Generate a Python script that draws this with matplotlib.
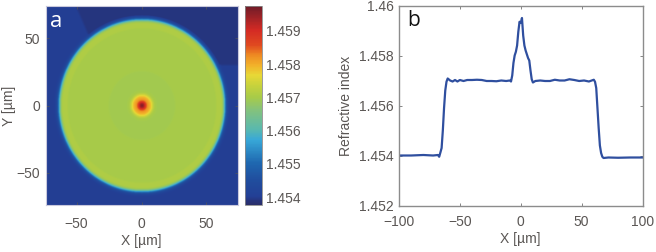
import numpy as np
import matplotlib
matplotlib.use("Agg")
import matplotlib.pyplot as plt
from matplotlib.colors import LinearSegmentedColormap

plt.rcParams['font.family'] = ['Liberation Sans', 'DejaVu Sans']

# refractive index read along the radius, one value per micron (r = 0, 1, 2 ...)
radial_n = [1.4597, 1.4595, 1.4592, 1.4587, 1.4583, 1.4581, 1.4580, 1.4578, 1.4575, 1.4572,
            1.4570, 1.4570, 1.45695, 1.45695, 1.45695, 1.45695, 1.45695, 1.45695, 1.45695, 1.45695,
            1.45695, 1.45695, 1.45695, 1.45695, 1.45695, 1.45695, 1.4570, 1.4570, 1.4570, 1.4570,
            1.4570, 1.4570, 1.4570, 1.4570, 1.4570, 1.4570, 1.4570, 1.4570, 1.4570, 1.4570,
            1.4570, 1.4570, 1.4570, 1.4570, 1.4570, 1.4570, 1.4570, 1.4570, 1.4570, 1.4570,
            1.4570, 1.4570, 1.4570, 1.4570, 1.4570, 1.4570, 1.4570, 1.4570, 1.4571, 1.4571,
            1.4571, 1.4571, 1.4570, 1.4566, 1.4557, 1.4548, 1.4543, 1.4541, 1.4540, 1.4540,
            1.4540, 1.4540, 1.4540, 1.4540, 1.4540, 1.4540, 1.4540, 1.4540, 1.4540, 1.4540,
            1.4540, 1.4540, 1.4540, 1.4540, 1.4540, 1.4540, 1.4540, 1.4540, 1.4540, 1.4540,
            1.4540, 1.4540, 1.4540, 1.4540, 1.4540, 1.4540, 1.4540, 1.4540, 1.4540, 1.4540,
            1.4540, 1.4540, 1.4540, 1.4540, 1.4540, 1.4540]
corner_n = 1.45392  # darker patch in the top right of the map

# line profile of panel b
profile_x = [-100, -90, -80, -72, -68, -67, -66, -65, -64, -63, -62, -61, -60, -58, -56, -54, -52,
             -50, -47, -44, -40, -36, -32, -28, -24, -20, -16, -12, -9, -8, -7, -6, -5, -4, -3,
             -2, -1, 0, 1, 2, 3, 4, 5, 6, 7, 8, 9, 10, 12, 16, 20, 24, 28, 32, 36, 40, 44, 48,
             52, 56, 60, 61, 62, 63, 64, 65, 66, 67, 68, 72, 80, 90, 100]
profile_n = [1.45400, 1.45400, 1.45402, 1.45400, 1.45402, 1.45395, 1.45412, 1.45430, 1.45500, 1.45590,
             1.45660, 1.45695, 1.45708, 1.45700, 1.45696, 1.45702, 1.45696, 1.45702, 1.45698, 1.45702,
             1.45702, 1.45703, 1.45702, 1.45698, 1.45698, 1.45697, 1.45700, 1.45698, 1.45700, 1.45696,
             1.45720, 1.45770, 1.45800, 1.45815, 1.45840, 1.45895, 1.45935, 1.45930, 1.45950, 1.45880,
             1.45840, 1.45820, 1.45805, 1.45790, 1.45780, 1.45740, 1.45705, 1.45692, 1.45698, 1.45700,
             1.45698, 1.45698, 1.45703, 1.45700, 1.45700, 1.45705, 1.45702, 1.45698, 1.45700, 1.45696,
             1.45703, 1.45695, 1.45670, 1.45590, 1.45510, 1.45440, 1.45410, 1.45395, 1.45390, 1.45392,
             1.45391, 1.45392, 1.45392]

cbar_ticks = [1.454, 1.455, 1.456, 1.457, 1.458, 1.459]
xticks_a = [-50, 0, 50]
yticks_a = [-50, 0, 50]
xticks_b = [-100, -50, 0, 50, 100]
yticks_b = [1.452, 1.454, 1.456, 1.458, 1.46]

W, H = 656, 252
text_col = '#5a5654'

def place(x0, y0, x1, y1):
    return [x0 / W, 1 - y1 / H, (x1 - x0) / W, (y1 - y0) / H]

def soften(a, n=7):
    # box blur so the 1 micron radial steps don't show as jaggies
    k = np.ones(n) / n
    a = np.pad(a, n, mode='edge')
    a = np.apply_along_axis(np.convolve, 0, a, k, mode='same')
    a = np.apply_along_axis(np.convolve, 1, a, k, mode='same')
    return a[n:-n, n:-n]

cmap = LinearSegmentedColormap.from_list('index', [
    (0.00, '#2a2f6a'), (0.02, '#26337a'), (0.04, '#233f95'), (0.126, '#204e9e'), (0.211, '#1f68b0'),
    (0.327, '#38a8d8'), (0.377, '#58b8b0'), (0.477, '#84c27c'), (0.543, '#a8cb48'),
    (0.603, '#c8d23c'), (0.653, '#e8d836'), (0.704, '#f2b02a'), (0.754, '#ee8a22'),
    (0.804, '#e04a20'), (0.88, '#d42a24'), (1.00, '#701c28')])

fig = plt.figure(figsize=(W / 100, H / 100), dpi=100)

# panel a
ax = fig.add_axes(place(45.5, 6, 237.5, 205))
grid = np.arange(-74, 74.1, 0.25)
xx, yy = np.meshgrid(grid, grid)
rr = np.rint(np.hypot(xx, yy)).astype(int)
field = np.array(radial_n)[rr]
field[(rr > 66) & (yy > 30) & (xx > -51 + (74 - yy) * 0.45)] = corner_n
field = soften(field)
im = ax.imshow(field, extent=[-74, 74, -74, 74], origin='lower', aspect='auto', cmap=cmap,
               vmin=1.45376, vmax=1.45975)
ax.set_xticks(xticks_a)
ax.set_yticks(yticks_a)
ax.tick_params(direction='in', length=2, width=0.5, color='#555555', labelcolor=text_col,
               labelsize=10, top=True, right=True)
ax.tick_params(axis='x', pad=9)
ax.tick_params(axis='y', pad=4)
for s in ax.spines.values():
    s.set_color('#c9c9dd')
    s.set_linewidth(0.8)
ax.set_xlabel('X [µm]', fontsize=10, color=text_col, labelpad=2)
ax.set_ylabel('Y [µm]', fontsize=10, color=text_col, labelpad=0)
ax.text(0.025, 0.975, 'a', transform=ax.transAxes, color='white', fontsize=16,
        family='Open Sans', va='top')

cax = fig.add_axes(place(244.5, 6, 262, 205))
cb = fig.colorbar(im, cax=cax)
cb.set_ticks(cbar_ticks)
cb.set_ticklabels([f'{t:.3f}' for t in cbar_ticks])
cb.ax.tick_params(length=0, labelcolor=text_col, labelsize=10, pad=3)
cb.outline.set_edgecolor('#8a8a8a')
cb.outline.set_linewidth(0.6)

# panel b
ax2 = fig.add_axes(place(399, 5.5, 642.5, 205.5))
ax2.plot(profile_x, profile_n, color='#2f4f9f', lw=1.6)
ax2.set_xlim(-100, 100)
ax2.set_ylim(1.452, 1.46)
ax2.set_xticks(xticks_b)
ax2.set_yticks(yticks_b)
ax2.set_yticklabels(['1.452', '1.454', '1.456', '1.458', '1.46'])
ax2.tick_params(direction='in', length=2, width=0.5, color='#555555', labelcolor=text_col,
                labelsize=10, top=True, right=True)
ax2.tick_params(axis='x', pad=7)
ax2.tick_params(axis='y', pad=4)
for s in ax2.spines.values():
    s.set_color('#8c8c8c')
    s.set_linewidth(1.0)
ax2.set_xlabel('X [µm]', fontsize=10, color=text_col, labelpad=2)
ax2.set_ylabel('Refractive index', fontsize=10, color=text_col, labelpad=4)
ax2.text(0.035, 0.98, 'b', transform=ax2.transAxes, color='#111111', fontsize=15,
         family='Open Sans', va='top')

fig.savefig('out.png', dpi=100)
